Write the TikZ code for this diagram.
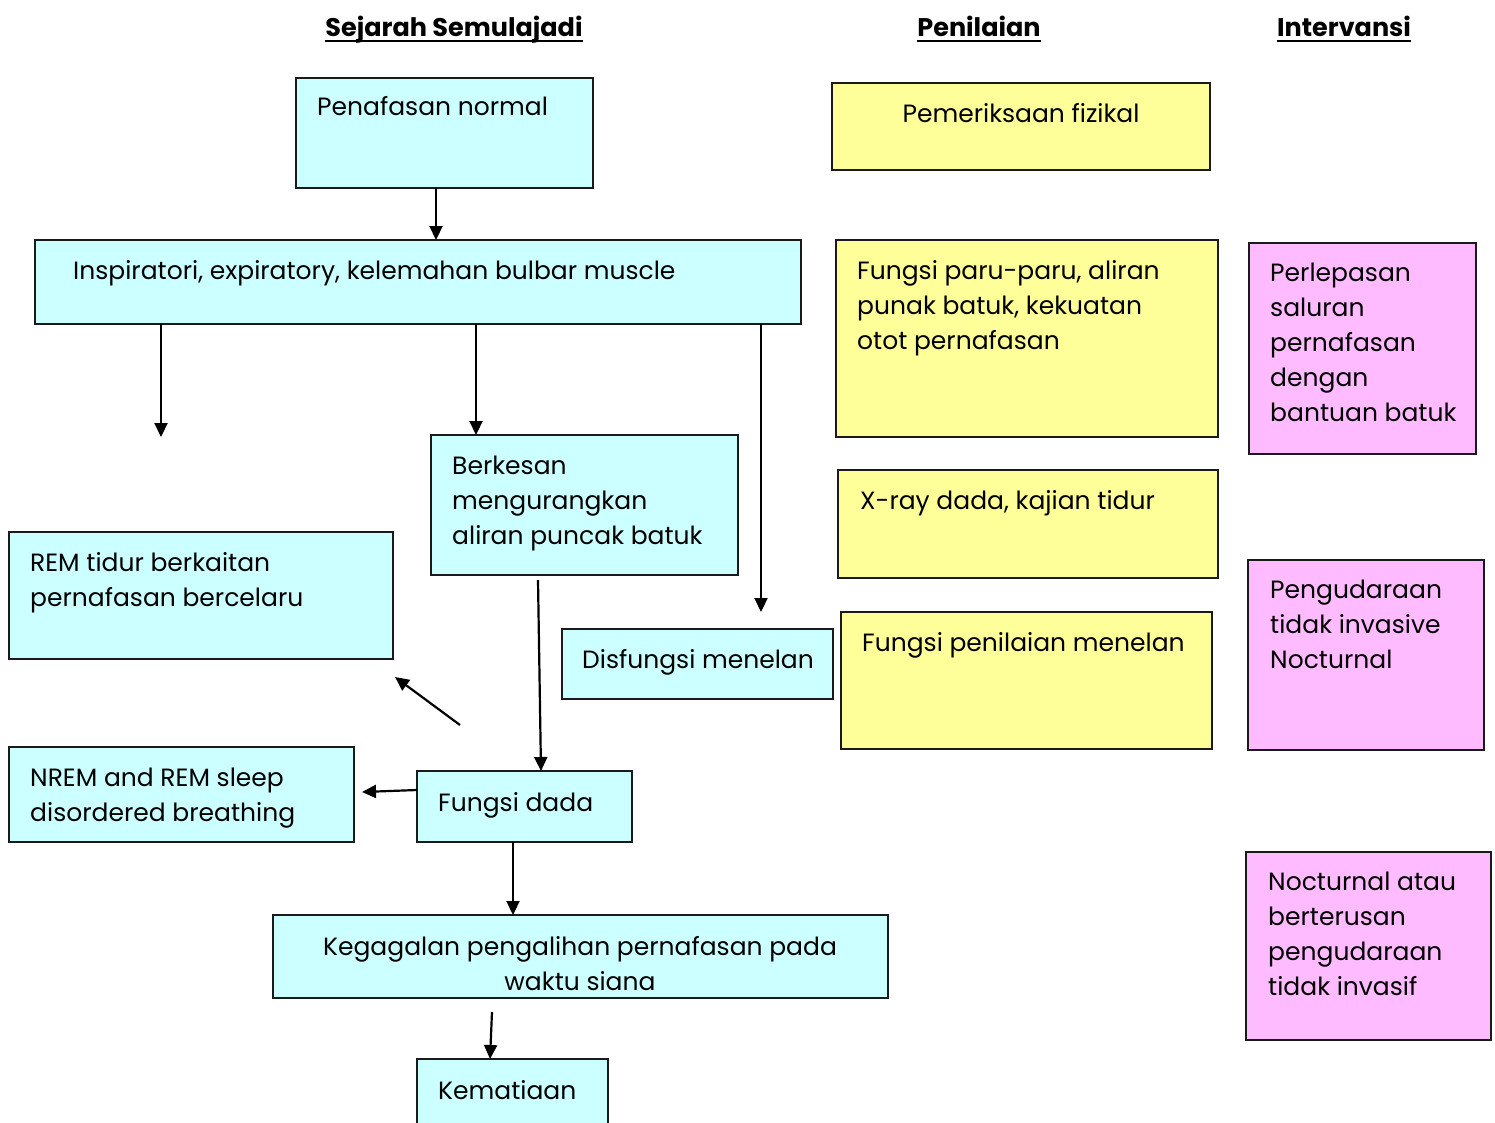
\documentclass[tikz,border=0pt]{standalone}
\usepackage{fontspec}
\setmainfont{Poppins}
\usetikzlibrary{arrows.meta}
\definecolor{cyanfill}{HTML}{CCFFFF}
\definecolor{yelfill}{HTML}{FFFF99}
\definecolor{pinkfill}{HTML}{FFBBFF}
\definecolor{edgecol}{HTML}{1A1A1A}
\tikzset{
  box/.style={draw=edgecol, line width=1.8pt, inner sep=0pt, outer sep=0pt, anchor=north west},
  cbox/.style={box, fill=cyanfill},
  ybox/.style={box, fill=yelfill},
  pbox/.style={box, fill=pinkfill},
  txt/.style={inner sep=0pt, anchor=north west, align=left, font=\fontsize{25}{35}\selectfont},
  ctxt/.style={txt, anchor=north, align=center},
  hdr/.style={inner sep=0pt, anchor=base, font=\fontsize{25.5}{30}\selectfont\bfseries},
  arr/.style={line width=2.2pt, -{Triangle[length=14pt,width=13pt]}},
}
\begin{document}
\begin{tikzpicture}[x=1pt,y=-1pt]
\clip (0,0) rectangle (1495,1122);
\fill[white] (0,0) rectangle (1495,1122);
% headers
\node[hdr] (h1) at (454,36) {Sejarah Semulajadi};
\node[hdr] (h2) at (979,36) {Penilaian};
\node[hdr] (h3) at (1344,36) {Intervansi};
\foreach \h in {h1,h2,h3}{\draw[line width=2.6pt] ([yshift=-5pt]\h.base west) -- ([yshift=-5pt]\h.base east);}
% cyan boxes
\node[cbox, minimum width=297, minimum height=110] (b1) at (296,78) {};
\node[txt] (t1) at (317,96) {Penafasan normal};
\node[cbox, minimum width=766, minimum height=84] (b2) at (35,240) {};
\node[txt] (t2) at (73,260) {Inspiratori, expiratory, kelemahan bulbar muscle};
\node[cbox, minimum width=307, minimum height=140] (b3) at (431,435) {};
\node[txt] (t3) at (452,456) {Berkesan\\mengurangkan\\aliran puncak batuk};
\node[cbox, minimum width=384, minimum height=127] (b4) at (9,532) {};
\node[txt] (t4) at (30,552) {REM tidur berkaitan\\pernafasan bercelaru};
\node[cbox, minimum width=271, minimum height=70] (b5) at (562,629) {};
\node[txt] (t5) at (582,649) {Disfungsi menelan};
\node[cbox, minimum width=345, minimum height=95] (b6) at (9,747) {};
\node[txt] (t6) at (30,768) {NREM and REM sleep\\disordered breathing};
\node[cbox, minimum width=215, minimum height=71] (b7) at (417,771) {};
\node[txt] (t7) at (438,792) {Fungsi dada};
\node[cbox, minimum width=615, minimum height=83] (b8) at (273,915) {};
\node[ctxt] (t8) at (580,936) {Kegagalan pengalihan pernafasan pada\\waktu siana};
\node[cbox, minimum width=191, minimum height=100] (b9) at (417,1059) {};
\node[txt] (t9) at (438,1080) {Kematiaan};
% yellow boxes
\node[ybox, minimum width=378, minimum height=87] (y1) at (832,83) {};
\node[ctxt] (u1) at (1021,103) {Pemeriksaan fizikal};
\node[ybox, minimum width=382, minimum height=197] (y2) at (836,240) {};
\node[txt] (u2) at (857,260) {Fungsi paru-paru, aliran\\punak batuk, kekuatan\\otot pernafasan};
\node[ybox, minimum width=380, minimum height=108] (y3) at (838,470) {};
\node[txt] (u3) at (860,490) {X-ray dada, kajian tidur};
\node[ybox, minimum width=371, minimum height=137] (y4) at (841,612) {};
\node[txt] (u4) at (862,632) {Fungsi penilaian menelan};
% pink boxes
\node[pbox, minimum width=227, minimum height=211] (p1) at (1249,243) {};
\node[txt] (v1) at (1270,263) {Perlepasan\\saluran\\pernafasan\\dengan\\bantuan batuk};
\node[pbox, minimum width=236, minimum height=190] (p2) at (1248,560) {};
\node[txt] (v2) at (1270,580) {Pengudaraan\\tidak invasive\\Nocturnal};
\node[pbox, minimum width=245, minimum height=188] (p3) at (1246,852) {};
\node[txt] (v3) at (1268,872) {Nocturnal atau\\berterusan\\pengudaraan\\tidak invasif};
% free-end coordinates
\coordinate (e1) at (161,437);
\coordinate (e2) at (761,612);
\coordinate (s3) at (538,580);
\coordinate (s4) at (460,725);
\coordinate (e4) at (395,677);
\coordinate (e5) at (362,792);
\coordinate (s6) at (492,1012);
% arrows
\draw[arr] (b1.south -| 436,0) -- (b2.north -| 436,0);
\draw[arr] (b2.south -| e1) -- (e1);
\draw[arr] (b2.south -| 476,0) -- (b3.north -| 476,0);
\draw[arr] (b2.south -| e2) -- (e2);
\draw[arr] (s3) -- (b7.north -| 541,0);
\draw[arr] (s4) -- (e4);
\draw[arr] (b7.west |- 0,790) -- (e5);
\draw[arr] (b7.south -| 513,0) -- (b8.north -| 513,0);
\draw[arr] (s6) -- (b9.north -| 490,0);
\end{tikzpicture}
\end{document}
